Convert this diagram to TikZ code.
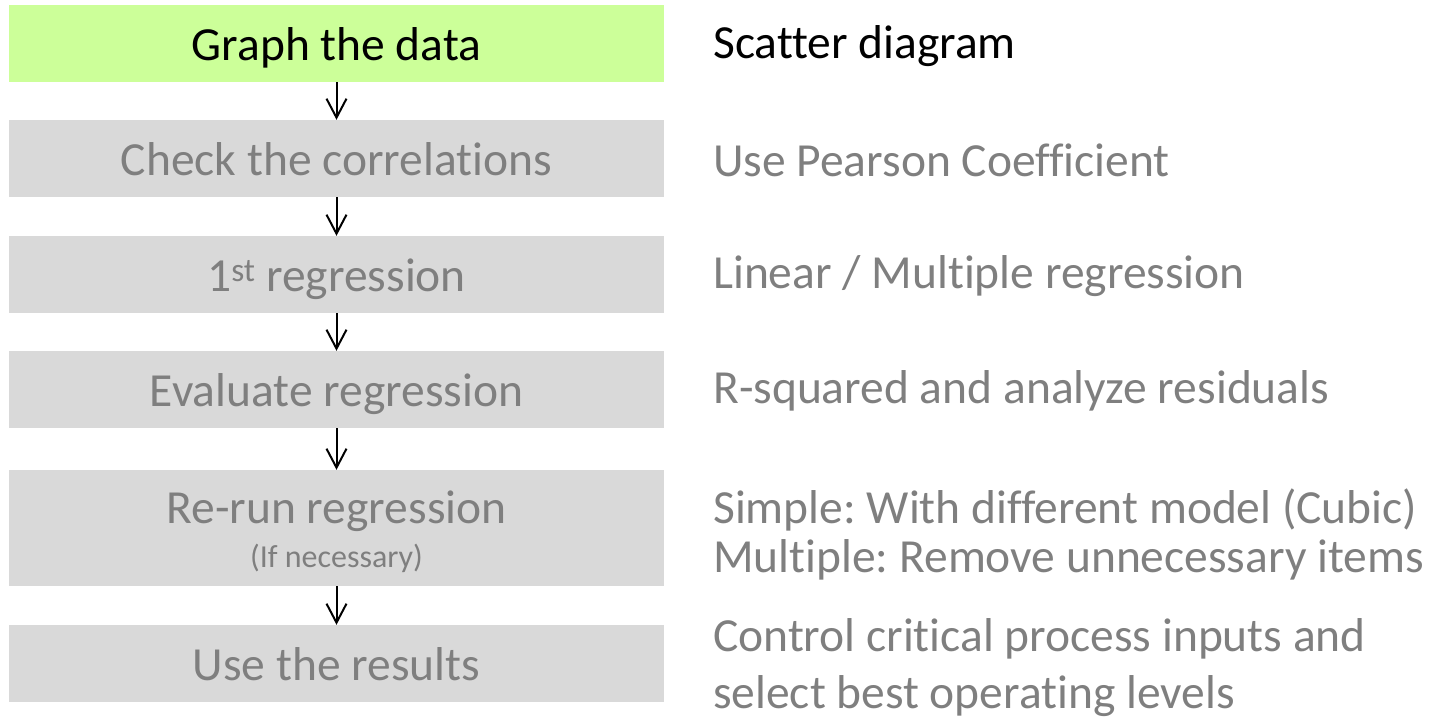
\documentclass[tikz,border=0pt]{standalone}
\usepackage{fontspec}
\setmainfont{Carlito}[Ligatures=NoCommon]
\usetikzlibrary{arrows.meta}
\frenchspacing

\begin{document}
\begin{tikzpicture}[x=1pt, y=-1pt]
    \definecolor{stepGreen}{HTML}{CCFF99}
    \definecolor{stepGrey}{HTML}{D9D9D9}
    \definecolor{textGrey}{HTML}{7F7F7F}

    \def\boxWidth{655}
    \def\stepX{336.5}
    \def\noteX{713}

    \tikzset{
        stepbase/.style={fill=stepGrey, text=textGrey, minimum width=\boxWidth pt, minimum height=77pt,
            inner sep=0pt, align=center, font=\fontsize{47.5}{52}\selectfont},
        stepbox/.style={stepbase, text height=33pt, text depth=0pt},
        note/.style={anchor=west, text=textGrey, inner sep=0pt, align=left, font=\fontsize{47.5}{52}\selectfont},
        flow/.style={line width=2pt, -{Straight Barb[length=19pt,width=20pt]}}
    }

    \useasboundingbox (0,0) rectangle (1439,716);

    % Steps on the left
    \node[stepbox, fill=stepGreen, text=black] (graph) at (\stepX,43.5) {Graph the data};
    \node[stepbox] (check) at (\stepX,158.5) {Check the correlations};
    \node[stepbox] (first) at (\stepX,274.5) {1\textsuperscript{st} regression};
    \node[stepbox] (evaluate) at (\stepX,389.5) {Evaluate regression};
    \node[stepbase, minimum height=116pt] (rerun) at (\stepX,528)
        {\rule{0pt}{40pt}Re-run regression\\[-8pt]{\fontsize{32}{36}\selectfont (If necessary)}};
    \node[stepbox] (use) at (\stepX,663.5) {Use the results};

    % Arrows between the steps
    \draw[flow] (graph) -- (check);
    \draw[flow] (check) -- (first);
    \draw[flow] (first) -- (evaluate);
    \draw[flow] (evaluate) -- (rerun);
    \draw[flow] (rerun) -- (use);

    % Notes on the right
    \node[note, text=black] (scatter) at (\noteX,46) {Scatter diagram};
    \node[note] (pearson) at (\noteX,160) {Use Pearson Coefficient};
    \node[note] (linear) at (\noteX,276) {Linear / Multiple regression};
    \node[note] (rsquared) at (\noteX,391) {R-squared and analyze residuals};
    \node[note, font=\fontsize{47.5}{49}\selectfont] (model) at (\noteX,534)
        {Simple: With different model (Cubic)\\Multiple: Remove unnecessary items};
    \node[note, font=\fontsize{47.5}{57}\selectfont] (control) at (\noteX,668)
        {Control critical process inputs and\\select best operating levels};

\end{tikzpicture}
\end{document}
